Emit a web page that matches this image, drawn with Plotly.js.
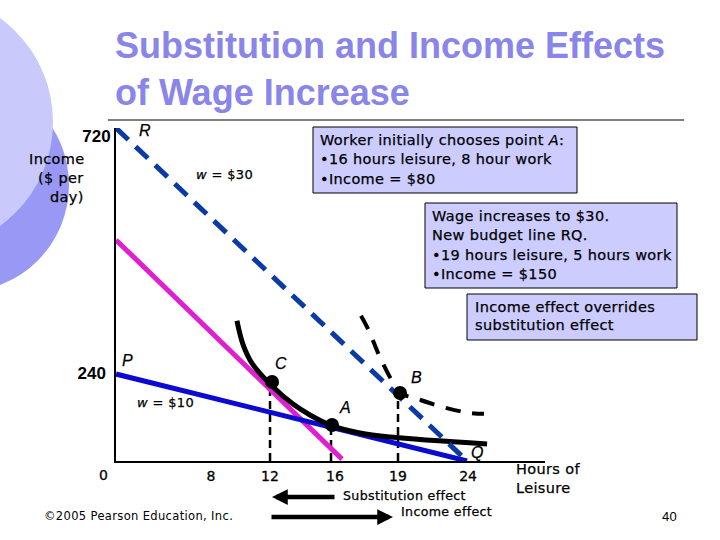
<!DOCTYPE html>
<html><head><meta charset="utf-8">
<script src="https://cdn.plot.ly/plotly-3.0.1.min.js"></script>
<style>html,body{margin:0;padding:0;background:#fff}#c{width:720px;height:540px}
.annotation-text{letter-spacing:.35px;stroke:#000;stroke-width:.25px}
.annotation-text[style*="11.5px"],.annotation-text[style*="13.01px"]{stroke:none}
.xtick text{stroke:#000;stroke-width:.3px}</style></head>
<body><div id="c"></div>
<script>
// Values as drawn: the picture's axes are schematic, so positions are in drawn units and labelled below.
const xTickVals = [6.5, 10.53, 14.97, 19.28, 24.07];
const xTickText = ['8', '12', '16', '19', '24'];
const yTickVals = [190, 703];
const yTickText = ['240\u00a0', '720'];
const budgetPQx = [0, 24];
const budgetPQy = [188, 0];
const budgetRQx = [0, 24];
const budgetRQy = [720, 0];
const compX = [0, 15.45];
const compY = [478, 4];
const u1X = [8.27, 8.68, 9.3, 10.67, 12.1, 13.26, 14.77, 16.68, 18.74, 25.37];
const u1Y = [303, 252, 211, 162, 123, 99.5, 76, 60.5, 52, 37];
const u2X = [16.75, 17.3, 17.98, 18.87, 19.42, 20.44, 22.29, 24.14, 25.16];
const u2Y = [314, 281, 229, 173, 147, 136, 117, 104, 102];
const pointX = [10.67, 14.77, 19.42];
const pointY = [171, 78, 147];
const dropX = [10.53, 14.7, 19.28];

const W=720,H=540,L=116,T=128,R=545,B=461;
const px=v=>(v-L)/(R-L), py=v=>(B-v)/(B-T);
const FONT='"DejaVu Sans"', ARIAL='"Liberation Sans"';
const LINE=(x,y,color,width,dash,shape)=>({x,y,type:'scatter',mode:'lines',cliponaxis:false,hoverinfo:'skip',showlegend:false,
  line:{color,width,dash:dash||'solid',shape:shape||'linear',smoothing:1}});
const traces=[];
dropX.forEach((x,i)=>traces.push(LINE([x,x],[0,pointY[i]],'#000',2.5,'8px,5px')));
traces.push(LINE(compX,compY,'#e01fd0',5));
traces.push(LINE(budgetPQx,budgetPQy,'#0a0ad0',5));
traces.push(LINE(u1X,u1Y,'#000',5,null,'spline'));
traces.push(LINE(u2X,u2Y,'#000',4,'15px,12px','spline'));
traces.push(LINE(budgetRQx,budgetRQy,'#0a3aa5',5,'17px,10px'));
traces.push({x:pointX,y:pointY,type:'scatter',mode:'markers',cliponaxis:false,hoverinfo:'skip',showlegend:false,marker:{color:'#000',size:14}});

const shapes=[];
const rect=(x0,y0,x1,y1)=>shapes.push({type:'rect',xref:'paper',yref:'paper',layer:'below',x0:px(x0),x1:px(x1),y0:py(y1),y1:py(y0),fillcolor:'#ccccff',line:{color:'#000',width:1}});
const circ=(cx,cy,r,c)=>shapes.push({type:'circle',xref:'paper',yref:'paper',layer:'below',x0:px(cx-r),x1:px(cx+r),y0:py(cy+r),y1:py(cy-r),fillcolor:c,line:{width:0}});
circ(-38,185,107,'#9999f5');
circ(-75.5,122,128.5,'#c9c9fb');
shapes.push({type:'line',xref:'paper',yref:'paper',x0:px(108),x1:px(684),y0:py(120),y1:py(120),line:{color:'#000',width:1}});
rect(313,127,577,193);rect(425,203,677,288);rect(467,294,697,340);

const annotations=[];
const txt=(t,x,y,o)=>{o=o||{};annotations.push({text:t,xref:'paper',yref:'paper',x:px(x),y:py(y-1),xanchor:o.a||'left',yanchor:'middle',showarrow:false,align:o.a||'left',
  font:{family:o.f||FONT,size:o.s||14.5,color:'#000',weight:o.w||'normal'}})};
[['Worker initially chooses point <i>A</i>:',141],['•16 hours leisure, 8 hour work',160],['•Income = $80',180]].forEach(l=>txt(l[0],318,l[1]));
[['Wage increases to $30.',217],['New budget line RQ.',236],['•19 hours leisure, 5 hours work',256],['•Income = $150',275]].forEach(l=>txt(l[0],430,l[1]));
[['Income effect overrides',308],['substitution effect',326]].forEach(l=>txt(l[0],473,l[1]));
[['Income',160],['($ per',179],['day)',198]].forEach(l=>txt(l[0],86,l[1],{a:'right'}));
[['Hours of',470],['Leisure',489]].forEach(l=>txt(l[0],514,l[1]));
[['R',145,131],['P',127,361],['C',281,364],['B',416,378],['A',345,408],['Q',477,453]].forEach(l=>txt('<i>'+l[0]+'</i>',l[1],l[2],{a:'center',f:ARIAL,s:16}));
txt('<i>w</i> = $30',224,175,{a:'center',s:13});
txt('<i>w</i> = $10',165,403,{a:'center',s:13});
txt('0',103,476,{a:'center',s:14});
txt('Substitution effect',404,496,{a:'center',s:12.6});
txt('Income effect',446,512,{a:'center',s:12.6});
txt('©2005 Pearson Education, Inc.',138,517,{a:'center',s:11.5});
txt('40',669,517,{a:'center',s:13.01,f:ARIAL});
const arrow=(x0,x1,y)=>annotations.push({text:'',xref:'paper',yref:'paper',axref:'pixel',ayref:'pixel',x:px(x1),y:py(y),ax:x0-x1,ay:0,showarrow:true,arrowhead:2,arrowsize:0.7,arrowwidth:4.5,arrowcolor:'#000',standoff:0,startstandoff:0});
arrow(336,272,497);
arrow(270,393,517);

const layout={width:W,height:H,paper_bgcolor:'#fff',plot_bgcolor:'rgba(0,0,0,0)',showlegend:false,hovermode:false,
  margin:{l:L,t:T,r:W-R,b:H-B,pad:0},
  title:{text:'Substitution and Income Effects<br>of Wage Increase',x:115/W,xanchor:'left',xref:'container',y:1-58/H,yanchor:'middle',
    font:{family:ARIAL,size:36,color:'#8a85e8',weight:'bold'}},
  xaxis:{range:[0,29.33],showgrid:false,zeroline:false,showline:true,linecolor:'#000',linewidth:2,ticks:'',tickvals:xTickVals,ticktext:xTickText,
    tickfont:{family:FONT,size:14,color:'#000'},ticklabelstandoff:1,fixedrange:true},
  yaxis:{range:[0,720],showgrid:false,zeroline:false,showline:true,linecolor:'#000',linewidth:2,ticks:'',tickvals:yTickVals,ticktext:yTickText,
    tickfont:{family:ARIAL,size:17,color:'#000',weight:'bold'},ticklabelstandoff:0,fixedrange:true},
  shapes,annotations};
Plotly.newPlot('c',traces,layout,{staticPlot:true,displayModeBar:false});
</script></body></html>
